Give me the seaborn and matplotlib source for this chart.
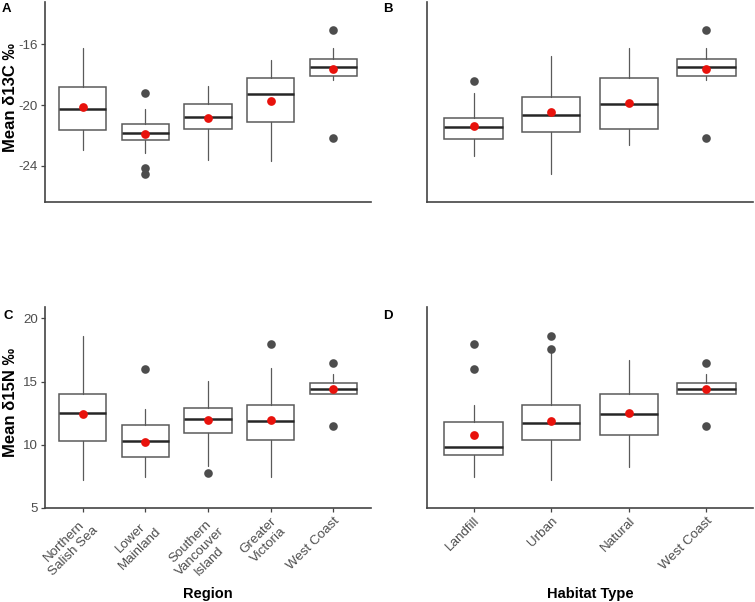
import matplotlib
matplotlib.use("Agg")
import matplotlib.pyplot as plt
import seaborn as sns
import pandas as pd

# ---------------- data ----------------
region_labels = ["Northern\nSalish Sea", "Lower\nMainland", "Southern\nVancouver\nIsland",
                 "Greater\nVictoria", "West Coast"]
habitat_labels = ["Landfill", "Urban", "Natural", "West Coast"]

# Panel A: mean d13C by region
a_whislo = [-22.97, -23.19, -23.63, -23.72, -18.32]
a_q1 = [-21.66, -22.34, -21.57, -21.09, -18.10]
a_med = [-20.23, -21.86, -20.80, -19.29, -17.47]
a_q3 = [-18.81, -21.24, -19.95, -18.21, -16.94]
a_whishi = [-16.24, -20.28, -18.76, -17.05, -16.24]
a_mean = [-20.12, -21.90, -20.87, -19.75, -17.64]
a_out = [[], [-19.20, -24.18, -24.55], [], [], [-15.08, -22.16]]

# Panel B: mean d13C by habitat type
b_whislo = [-23.35, -24.55, -22.67, -18.32]
b_q1 = [-22.23, -21.81, -21.61, -18.10]
b_med = [-21.44, -20.63, -19.93, -17.47]
b_q3 = [-20.85, -19.46, -18.24, -16.94]
b_whishi = [-19.20, -16.77, -16.22, -16.24]
b_mean = [-21.39, -20.47, -19.86, -17.64]
b_out = [[-18.39], [], [], [-15.08, -22.16]]

# Panel C: mean d15N by region
c_whislo = [7.22, 7.48, 8.33, 7.43, 13.99]
c_q1 = [10.33, 9.01, 10.91, 10.36, 13.99]
c_med = [12.54, 10.28, 12.07, 11.86, 14.39]
c_q3 = [14.02, 11.54, 12.94, 13.15, 14.86]
c_whishi = [18.60, 12.81, 15.05, 16.10, 15.60]
c_mean = [12.46, 10.25, 11.94, 11.96, 14.39]
c_out = [[], [15.97], [7.80], [17.94], [16.50, 11.46]]

# Panel D: mean d15N by habitat type
d_whislo = [7.43, 7.22, 8.22, 13.99]
d_q1 = [9.22, 10.38, 10.75, 13.99]
d_med = [9.86, 11.75, 12.46, 14.39]
d_q3 = [11.78, 13.18, 14.04, 14.86]
d_whishi = [13.18, 17.50, 16.71, 15.60]
d_mean = [10.78, 11.88, 12.49, 14.39]
d_out = [[17.94, 15.97], [18.63, 17.58], [], [16.50, 11.46]]

c13_ticks = [-24, -20, -16]
n15_ticks = [5, 10, 15, 20]

# ---------------- style ----------------
sns.set_style("ticks")
plt.rcParams["font.family"] = ["Liberation Sans", "DejaVu Sans"]

BOX_EDGE = "#5a5a5a"
MED_COL = "#262626"
FLIER_COL = "#4d4d4d"
AX_COL = "#444444"
TXT_COL = "#4d4d4d"

fig = plt.figure(figsize=(7.55, 6.02), dpi=100)
W, H = 755.0, 602.0


def add_ax(l, t, r, b):
    return fig.add_axes([l / W, 1 - b / H, (r - l) / W, (b - t) / H])


axA = add_ax(45, 2, 371, 202)
axB = add_ax(427, 2, 753, 202)
axC = add_ax(45, 307, 371, 508)
axD = add_ax(427, 307, 753, 508)


def draw(ax, labels, whislo, q1, med, q3, whishi, means, outs):
    n = len(labels)
    stats = []
    for i in range(n):
        stats.append(dict(whislo=whislo[i], q1=q1[i], med=med[i], q3=q3[i],
                          whishi=whishi[i], fliers=outs[i], label=labels[i]))
    ax.bxp(stats, positions=list(range(n)), widths=0.75, patch_artist=True,
           showcaps=False, manage_ticks=False,
           boxprops=dict(facecolor="white", edgecolor=BOX_EDGE, linewidth=1.1),
           whiskerprops=dict(color=BOX_EDGE, linewidth=0.9),
           medianprops=dict(color=MED_COL, linewidth=1.8),
           flierprops=dict(marker="o", markerfacecolor=FLIER_COL,
                           markeredgecolor="none", markersize=6.2))
    df = pd.DataFrame({"group": labels, "mean": means})
    sns.stripplot(data=df, x="group", y="mean", ax=ax, jitter=False,
                  color="#e8120c", size=6.3, linewidth=0, zorder=6)
    ax.set_xlim(-0.6, n - 0.4)
    ax.set_xticks(list(range(n)))
    ax.set_xlabel("")
    ax.set_ylabel("")
    sns.despine(ax=ax)
    for s in ("left", "bottom"):
        ax.spines[s].set_color(AX_COL)
        ax.spines[s].set_linewidth(1.2)
    ax.tick_params(colors=AX_COL, labelcolor=TXT_COL, length=3, width=0.9,
                   labelsize=9.6, pad=2)


draw(axA, region_labels, a_whislo, a_q1, a_med, a_q3, a_whishi, a_mean, a_out)
draw(axB, habitat_labels, b_whislo, b_q1, b_med, b_q3, b_whishi, b_mean, b_out)
draw(axC, region_labels, c_whislo, c_q1, c_med, c_q3, c_whishi, c_mean, c_out)
draw(axD, habitat_labels, d_whislo, d_q1, d_med, d_q3, d_whishi, d_mean, d_out)

for ax in (axA, axB):
    ax.set_ylim(-26.4, -13.2)
    ax.set_yticks(c13_ticks)
    ax.set_yticklabels([str(v) for v in c13_ticks])
    ax.tick_params(axis="x", length=0, labelbottom=False)
for ax in (axC, axD):
    ax.set_ylim(5, 20.9)
    ax.set_yticks(n15_ticks)
    ax.set_yticklabels([str(v) for v in n15_ticks])
for ax in (axB, axD):
    ax.tick_params(axis="y", length=0, labelleft=False)

axC.set_xticklabels(region_labels, rotation=45, ha="right", va="top",
                    rotation_mode="anchor", multialignment="center")
axD.set_xticklabels(habitat_labels, rotation=45, ha="right", va="top",
                    rotation_mode="anchor", multialignment="center")

label_kw = dict(fontsize=12, fontweight="bold", color="black")
axA.set_ylabel("Mean δ13C ‰", **label_kw)
axC.set_ylabel("Mean δ15N ‰", **label_kw)
axA.yaxis.set_label_coords(-0.083, 0.52)
axC.yaxis.set_label_coords(-0.083, 0.525)

axC.set_xlabel("Region", fontsize=10.5, fontweight="bold", color="black")
axD.set_xlabel("Habitat Type", fontsize=10.5, fontweight="bold", color="black")
axC.xaxis.set_label_coords(0.5, -0.393)
axD.xaxis.set_label_coords(0.5, -0.393)

for txt, x, y in (("A", 2, 3), ("B", 383, 3), ("C", 3, 310), ("D", 383, 310)):
    fig.text(x / W, 1 - y / H, txt, ha="left", va="top", fontsize=9.5,
             fontweight="bold", color="black")

fig.savefig("out.png", dpi=100, facecolor="white")
